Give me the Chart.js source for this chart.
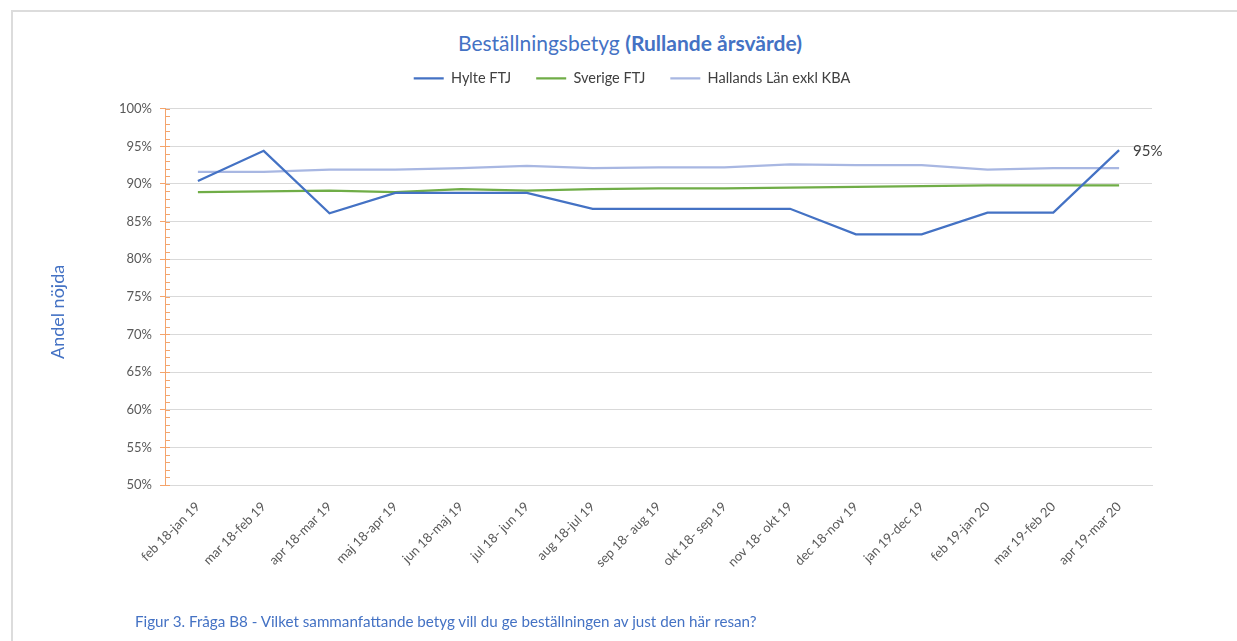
<!DOCTYPE html>
<html>
<head>
<meta charset="utf-8">
<script src="https://cdn.jsdelivr.net/npm/chart.js"></script>
<style>
  html, body { margin: 0; padding: 0; background: #fff; }
  #wrap { position: relative; width: 1237px; height: 641px; overflow: hidden; }
  #frame { position: absolute; left: 11px; top: 10px; right: -5px; bottom: -5px;
           border-top: 2px solid #dcdcdc; border-left: 2px solid #dcdcdc; }
  #title { position: absolute; left: 0; width: 1260px; top: 30px; text-align: center;
           font-family: Lato, sans-serif; font-size: 21px; color: #4472c4; }
  #caption { position: absolute; left: 135px; top: 612px; font-family: Lato, sans-serif;
             font-size: 15.2px; color: #4472c4; }
  canvas { position: absolute; left: 0; top: 0; }
</style>
</head>
<body>
<div id="wrap">
  <div id="frame"></div>
  <div id="title">Beställningsbetyg <b>(Rullande årsvärde)</b></div>
  <canvas id="chart" width="1237" height="641"></canvas>
  <div id="caption">Figur 3. Fråga B8 - Vilket sammanfattande betyg vill du ge beställningen av just den här resan?</div>
</div>
<script>
const periods = ['feb 18-jan 19', 'mar 18-feb 19', 'apr 18-mar 19', 'maj 18-apr 19', 'jun 18-maj 19',
  'jul 18- jun 19', 'aug 18-jul 19', 'sep 18- aug 19', 'okt 18- sep 19', 'nov 18- okt 19',
  'dec 18-nov 19', 'jan 19-dec 19', 'feb 19-jan 20', 'mar 19-feb 20', 'apr 19-mar 20'];

const hylte = [90.4, 94.4, 86.1, 88.8, 88.8, 88.8, 86.7, 86.7, 86.7, 86.7, 83.3, 83.3, 86.2, 86.2, 94.5];
const sverige = [88.9, 89.0, 89.1, 88.9, 89.3, 89.1, 89.3, 89.4, 89.4, 89.5, 89.6, 89.7, 89.8, 89.8, 89.8];
const hallands = [91.6, 91.6, 91.9, 91.9, 92.1, 92.4, 92.1, 92.2, 92.2, 92.6, 92.5, 92.5, 91.9, 92.1, 92.1];

const seriesNames = ['Hylte FTJ', 'Sverige FTJ', 'Hallands Län exkl KBA'];
const lastLabel = '95%';
const yTitle = 'Andel nöjda';

// orange minor ticks on the y axis, y axis title, end label for Hylte
const extras = {
  id: 'extras',
  afterDatasetsDraw(chart) {
    const ctx = chart.ctx;
    const y = chart.scales.y;
    const x0 = chart.chartArea.left;
    ctx.save();
    ctx.strokeStyle = '#f4a46c';
    ctx.lineWidth = 1;
    for (let v = 50; v <= 100; v += 1) {
      const py = Math.round(y.getPixelForValue(v)) + 0.5;
      ctx.beginPath();
      ctx.moveTo(x0, py);
      ctx.lineTo(x0 + 5, py);
      ctx.stroke();
    }
    const pt = chart.getDatasetMeta(0).data[hylte.length - 1];
    ctx.fillStyle = '#404040';
    ctx.font = '15px Lato, sans-serif';
    ctx.textBaseline = 'middle';
    ctx.fillText(lastLabel, pt.x + 14, pt.y + 1);

    ctx.translate(58, y.getPixelForValue(73));
    ctx.rotate(-Math.PI / 2);
    ctx.textAlign = 'center';
    ctx.fillStyle = '#4472c4';
    ctx.font = '18px Lato, sans-serif';
    ctx.fillText(yTitle, 0, 0);
    ctx.restore();
  }
};

new Chart(document.getElementById('chart'), {
  type: 'line',
  data: {
    labels: periods,
    datasets: [
      { label: seriesNames[0], data: hylte, borderColor: '#4472c4', backgroundColor: '#4472c4' },
      { label: seriesNames[1], data: sverige, borderColor: '#70ad47', backgroundColor: '#70ad47' },
      { label: seriesNames[2], data: hallands, borderColor: '#a8b7e2', backgroundColor: '#a8b7e2' }
    ]
  },
  options: {
    responsive: false,
    animation: false,
    elements: {
      line: { borderWidth: 2.25, tension: 0 },
      point: { radius: 0, borderWidth: 2.25 }
    },
    layout: { padding: { left: 112, right: 85, top: 46, bottom: 0 } },
    plugins: {
      tooltip: { enabled: false },
      legend: {
        position: 'top',
        weight: 3000,
        labels: {
          usePointStyle: true,
          pointStyle: 'line',
          pointStyleWidth: 30,
          color: '#404040',
          font: { family: 'Lato, sans-serif', size: 14.5 },
          padding: 25
        }
      },
      subtitle: {
        display: true,
        text: '',
        font: { size: 1 },
        padding: { top: 0, bottom: 12 }
      }
    },
    scales: {
      x: {
        offset: true,
        grid: { display: false },
        border: { color: '#d9d9d9' },
        ticks: {
          color: '#595959',
          font: { family: 'Lato, sans-serif', size: 13 },
          minRotation: 45,
          maxRotation: 45,
          padding: 6
        },
        afterFit(scale) { scale.height = 156; }
      },
      y: {
        min: 50,
        max: 100,
        ticks: {
          stepSize: 5,
          color: '#595959',
          font: { family: 'Lato, sans-serif', size: 13 },
          padding: 8,
          callback: v => v + '%'
        },
        grid: { color: '#d9d9d9', tickColor: '#f4a46c', tickLength: 5 },
        border: { color: '#f4a46c' },
        afterFit(scale) { scale.width = 53; }
      }
    }
  },
  plugins: [extras]
});
</script>
</body>
</html>
